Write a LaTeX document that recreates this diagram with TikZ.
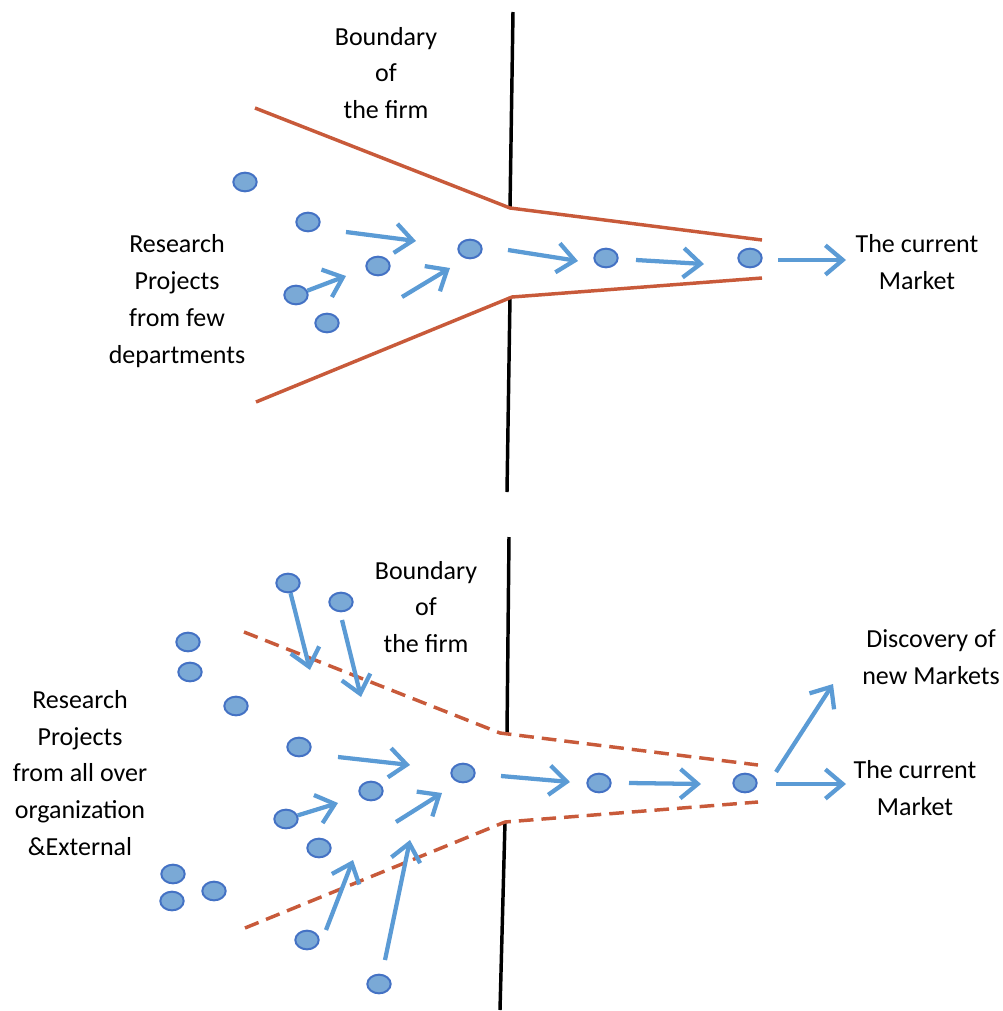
\documentclass[tikz,border=0pt]{standalone}
\usepackage{fontspec}
\setmainfont{Carlito}
\usetikzlibrary{arrows.meta,shapes.geometric}
\definecolor{funnel}{RGB}{200,90,58}
\definecolor{flow}{RGB}{91,155,213}
\definecolor{dotfill}{RGB}{122,169,214}
\definecolor{dotedge}{RGB}{68,114,196}
\tikzset{
  x=0.75pt, y=-0.75pt,
  project/.style={ellipse, draw=dotedge, fill=dotfill, line width=1.5pt,
    minimum width=17.5pt, minimum height=14pt, inner sep=0pt},
  flowarrow/.style={draw=flow, line width=3.2pt,
    -{Straight Barb[length=13pt, width=22pt, line width=3.2pt]}},
  wall/.style={draw=black, line width=2.6pt},
  funnelline/.style={draw=funnel, line width=2.6pt, line join=round},
  funneldash/.style={funnelline, dash pattern=on 11pt off 6pt},
  label/.style={align=center, font=\fontsize{19.5}{27.6}\selectfont, inner sep=0pt}
}
\begin{document}
\begin{tikzpicture}
\useasboundingbox (0,0) rectangle (1003,1011);

% ---------- upper funnel: closed innovation ----------
\draw[wall] (513,12) -- (510,208);
\draw[wall] (510,297) -- (507,492);
\draw[funnelline] (255,108) -- (510,208) -- (762,240);
\draw[funnelline] (256,402) -- (512,297) -- (762,278);

\node[label] (bnd1) at (386,73) {Boundary\\of\\the firm};
\node[label] (src1) at (177,301) {Research\\Projects\\from few\\departments};
\node[label] (mkt1) at (917,262) {The current\\Market};

\node[project] (a1) at (245,182) {};
\node[project] (a2) at (308,222) {};
\node[project] (a3) at (378,266) {};
\node[project] (a4) at (296,295) {};
\node[project] (a5) at (327,323) {};
\node[project] (a6) at (470,249) {};
\node[project] (a7) at (606,258) {};
\node[project] (a8) at (750,258) {};

\coordinate (p1s) at (346,232); \coordinate (p1e) at (416,241);
\coordinate (p2e) at (346,276);
\coordinate (p3s) at (402,297); \coordinate (p3e) at (450,268);
\coordinate (p4s) at (508,250); \coordinate (p4e) at (578,261);
\coordinate (p5s) at (636,260); \coordinate (p5e) at (704,264);
\coordinate (p6s) at (778,260); \coordinate (p6e) at (846,260);

\draw[flowarrow] (p1s) -- (p1e);
\draw[flowarrow] (a4) -- (p2e);
\draw[flowarrow] (p3s) -- (p3e);
\draw[flowarrow] (p4s) -- (p4e);
\draw[flowarrow] (p5s) -- (p5e);
\draw[flowarrow] (p6s) -- (p6e);

% ---------- lower funnel: open innovation ----------
\draw[wall] (509,537) -- (507,733);
\draw[wall] (505,822) -- (500,1010);
\draw[funneldash] (244,632) -- (500,733) -- (758,765);
\draw[funneldash] (245,928) -- (505,822) -- (758,802);

\node[label] (bnd2) at (426,607) {Boundary\\of\\the firm};
\node[label] (src2) at (80,773) {Research\\Projects\\from all over\\organization\\\&External};
\node[label] (new2) at (931,657) {Discovery of\\new Markets};
\node[label] (mkt2) at (915,788) {The current\\Market};

\node[project] (b1) at (288,583) {};
\node[project] (b2) at (341,602) {};
\node[project] (b3) at (188,642) {};
\node[project] (b4) at (190,672) {};
\node[project] (b5) at (236,706) {};
\node[project] (b6) at (299,747) {};
\node[project] (b7) at (463,773) {};
\node[project] (b8) at (371,791) {};
\node[project] (b9) at (286,819) {};
\node[project] (b10) at (319,848) {};
\node[project] (b11) at (173,874) {};
\node[project] (b12) at (172,901) {};
\node[project] (b13) at (214,891) {};
\node[project] (b14) at (307,940) {};
\node[project] (b15) at (379,984) {};
\node[project] (b16) at (599,783) {};
\node[project] (b17) at (745,783) {};

\coordinate (q1e) at (310,670);
\coordinate (q2s) at (342,620); \coordinate (q2e) at (361,697);
\coordinate (q3s) at (338,757); \coordinate (q3e) at (410,765);
\coordinate (q4e) at (338,803);
\coordinate (q5s) at (396,822); \coordinate (q5e) at (442,793);
\coordinate (q6s) at (326,930); \coordinate (q6e) at (353,860);
\coordinate (q7s) at (385,960); \coordinate (q7e) at (410,840);
\coordinate (q8s) at (501,776); \coordinate (q8e) at (570,782);
\coordinate (q9s) at (629,783); \coordinate (q9e) at (701,784);
\coordinate (q10s) at (776,772); \coordinate (q10e) at (833,684);
\coordinate (q11s) at (776,784); \coordinate (q11e) at (846,784);

\draw[flowarrow] (b1) -- (q1e);
\draw[flowarrow] (q2s) -- (q2e);
\draw[flowarrow] (q3s) -- (q3e);
\draw[flowarrow] (b9) -- (q4e);
\draw[flowarrow] (q5s) -- (q5e);
\draw[flowarrow] (q6s) -- (q6e);
\draw[flowarrow] (q7s) -- (q7e);
\draw[flowarrow] (q8s) -- (q8e);
\draw[flowarrow] (q9s) -- (q9e);
\draw[flowarrow] (q10s) -- (q10e);
\draw[flowarrow] (q11s) -- (q11e);
\end{tikzpicture}
\end{document}
